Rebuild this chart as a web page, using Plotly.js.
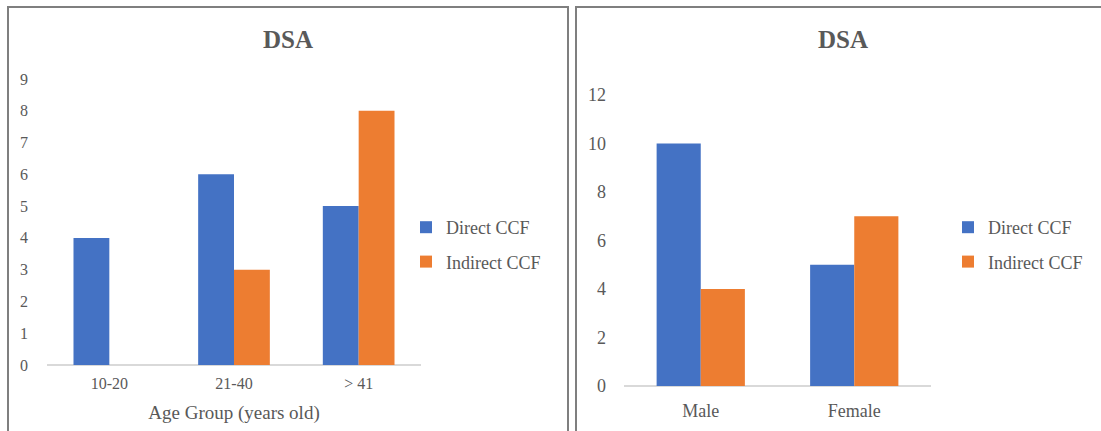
<!DOCTYPE html>
<html>
<head>
<meta charset="utf-8">
<script src="https://cdn.plot.ly/plotly-3.0.1.min.js"></script>
<style>html,body{margin:0;padding:0;background:#fff;}#chart{width:1101px;height:431px;}</style>
</head>
<body>
<div id="chart"></div>
<script>
// ---- data ----
const ageGroups = ["10-20", "21-40", "> 41"];
const ageDirect = [4, 6, 5];
const ageIndirect = [0, 3, 8];
const genders = ["Male", "Female"];
const genderDirect = [10, 5];
const genderIndirect = [4, 7];
const seriesNames = ["Direct CCF", "Indirect CCF"];
const chartTitles = ["DSA", "DSA"];
const xTitleLeft = "Age Group (years old)";

const BLUE = "#4472C4", ORANGE = "#ED7D31", TXT = "#595959";
const FONT = "Liberation Serif";
const W = 1101, H = 431;
const px = v => v / W;
const py = v => 1 - v / H;
const f = (size) => ({family: FONT, size: size, color: TXT});

const traces = [
  {type: "bar", x: ageGroups, y: ageDirect, name: seriesNames[0], marker: {color: BLUE}, xaxis: "x", yaxis: "y", legend: "legend", legendgroup: "a1"},
  {type: "bar", x: ageGroups, y: ageIndirect, name: seriesNames[1], marker: {color: ORANGE}, xaxis: "x", yaxis: "y", legend: "legend", legendgroup: "a2"},
  {type: "bar", x: genders, y: genderDirect, name: seriesNames[0], marker: {color: BLUE}, xaxis: "x2", yaxis: "y2", legend: "legend2", legendgroup: "b1"},
  {type: "bar", x: genders, y: genderIndirect, name: seriesNames[1], marker: {color: ORANGE}, xaxis: "x2", yaxis: "y2", legend: "legend2", legendgroup: "b2"}
];

const axBase = {showgrid: false, showline: false, ticks: "", fixedrange: true};
const legBase = {orientation: "v", xanchor: "left", yanchor: "top", bgcolor: "rgba(0,0,0,0)",
  font: f(18), tracegroupgap: 8, itemwidth: 30, traceorder: "grouped"};

const layout = {
  width: W, height: H,
  margin: {l: 0, r: 0, t: 0, b: 0},
  paper_bgcolor: "#fff", plot_bgcolor: "#fff",
  barmode: "group", bargap: 0.425, bargroupgap: 0,
  font: f(16),
  xaxis: Object.assign({}, axBase, {domain: [px(47), px(421)], anchor: "y", zeroline: false,
    tickfont: f(16), ticklabelstandoff: 7,
    title: {text: xTitleLeft, font: f(19), standoff: 14}}),
  yaxis: Object.assign({}, axBase, {domain: [py(365), py(79)], anchor: "x", range: [0, 9], dtick: 1,
    zeroline: true, zerolinecolor: "#D9D9D9", zerolinewidth: 2,
    tickfont: f(16), ticklabelstandoff: 18}),
  xaxis2: Object.assign({}, axBase, {domain: [px(624), px(931)], anchor: "y2", zeroline: false,
    tickfont: f(18), ticklabelstandoff: 12}),
  yaxis2: Object.assign({}, axBase, {domain: [py(386), py(95)], anchor: "x2", range: [0, 12], dtick: 2,
    zeroline: true, zerolinecolor: "#D9D9D9", zerolinewidth: 2,
    tickfont: f(18), ticklabelstandoff: 17}),
  legend: Object.assign({}, legBase, {x: px(406), y: py(209)}),
  legend2: Object.assign({}, legBase, {x: px(948), y: py(209)}),
  annotations: [
    {text: "<b>" + chartTitles[0] + "</b>", xref: "paper", yref: "paper", x: px(288), y: py(39),
     xanchor: "center", yanchor: "middle", showarrow: false, font: f(25)},
    {text: "<b>" + chartTitles[1] + "</b>", xref: "paper", yref: "paper", x: px(843), y: py(39),
     xanchor: "center", yanchor: "middle", showarrow: false, font: f(25)}
  ],
  shapes: [
    {type: "rect", xref: "paper", yref: "paper", x0: px(8), x1: px(568), y0: -0.1, y1: py(7),
     line: {color: "#7F7F7F", width: 2}, fillcolor: "rgba(0,0,0,0)"},
    {type: "rect", xref: "paper", yref: "paper", x0: px(576), x1: 1.05, y0: -0.1, y1: py(7),
     line: {color: "#7F7F7F", width: 2}, fillcolor: "rgba(0,0,0,0)"}
  ]
};

Plotly.newPlot("chart", traces, layout, {displayModeBar: false, staticPlot: true});
</script>
</body>
</html>
